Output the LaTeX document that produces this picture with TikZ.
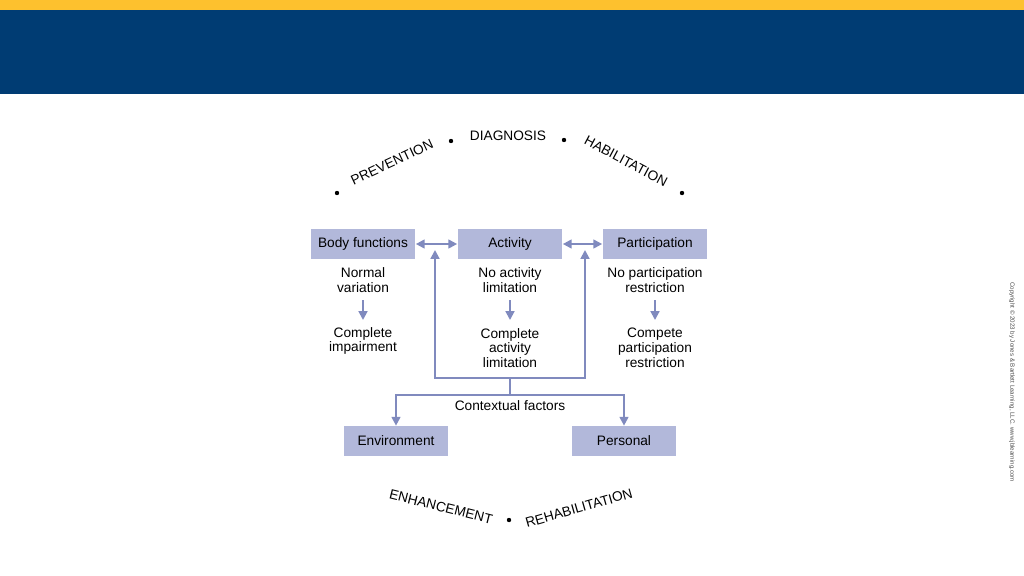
\documentclass[tikz,border=0pt]{standalone}
\usepackage{fontspec}
\setmainfont{Liberation Sans}
\usepackage{tikz}
\usetikzlibrary{arrows.meta, positioning}
\definecolor{topblue}{RGB}{0,60,115}
\definecolor{topyellow}{RGB}{253,193,46}
\definecolor{boxfill}{RGB}{178,184,218}
\definecolor{arrowcol}{RGB}{128,138,190}
\tikzset{
    box/.style={rectangle, fill=boxfill, minimum width=2.1cm, minimum height=0.6cm, inner sep=0pt, font=\fontsize{7.8}{9}\selectfont},
    txt/.style={align=center, font=\fontsize{7.8}{8.4}\selectfont, inner sep=0pt},
    arc/.style={font=\fontsize{7.8}{9}\selectfont, inner sep=0pt},
    link/.style={-{Triangle[length=5pt,width=5pt]}, arrowcol, line width=1.1pt},
    dlink/.style={{Triangle[length=5pt,width=5pt]}-{Triangle[length=5pt,width=5pt]}, arrowcol, line width=1.1pt},
}
\begin{document}
\begin{tikzpicture}[x=0.02cm, y=-0.02cm]
        \useasboundingbox (0,0) rectangle (1024,575);
        \fill[topyellow] (0,0) rectangle (1024,10);
        \fill[topblue] (0,10) rectangle (1024,94);

        % arc of terms
        \node[arc, rotate=25] at (392,162) (prev) {PREVENTION};
        \node[arc] at (508,136) (diag) {DIAGNOSIS};
        \node[arc, rotate=-28] at (626,161) (habi) {HABILITATION};
        \node[arc, rotate=-14] at (441,507) (enha) {ENHANCEMENT};
        \node[arc, rotate=16] at (579,508) (reha) {REHABILITATION};
        \foreach \x/\y in {337/193, 451/141, 564/140, 682/193, 509/520}
            \fill (\x,\y) circle (2.2);

        % boxes
        \node[box] at (363,244) (body) {Body functions};
        \node[box] at (510,244) (act) {Activity};
        \node[box] at (655,244) (part) {Participation};
        \node[box] at (396,441) (env) {Environment};
        \node[box] at (624,441) (pers) {Personal};

        % scales
        \node[txt] at (363,280) (bodyA) {Normal\\variation};
        \node[txt] at (363,341) (bodyB) {Complete\\impairment};
        \node[txt] at (510,280) (actA) {No activity\\limitation};
        \node[txt] at (510,348) (actB) {Complete\\activity\\limitation};
        \node[txt] at (655,280) (partA) {No participation\\restriction};
        \node[txt] at (655,348) (partB) {Compete\\participation\\restriction};
        \node[txt] at (510,406) (ctx) {Contextual factors};

        \draw [dlink] (body) -- (act);
        \draw [dlink] (act) -- (part);
        \draw [link] (bodyA) ++(0,20) -- ++(0,20);
        \draw [link] (actA) ++(0,20) -- ++(0,20);
        \draw [link] (partA) ++(0,20) -- ++(0,20);

        % feedback from contextual factors
        \coordinate (fbL) at (435,378);
        \coordinate (fbR) at (585,378);
        \coordinate (fbM) at (510,378);
        \coordinate (spL) at (396,395);
        \coordinate (spR) at (624,395);
        \draw [link] (fbM) -- (fbL) -- (435,250);
        \draw [link] (fbM) -- (fbR) -- (585,250);
        \draw [arrowcol, line width=1.1pt] (fbM) -- (510,395);
        \draw [link] (510,395) -- (spL) -- (env);
        \draw [link] (510,395) -- (spR) -- (pers);

        \node[rotate=-90, font=\fontsize{3.5}{4}\selectfont, text=black!70] at (1012,382) (copy) {Copyright \textcopyright{} 2023 by Jones \& Bartlett Learning, LLC. www.jblearning.com};
\end{tikzpicture}
\end{document}
